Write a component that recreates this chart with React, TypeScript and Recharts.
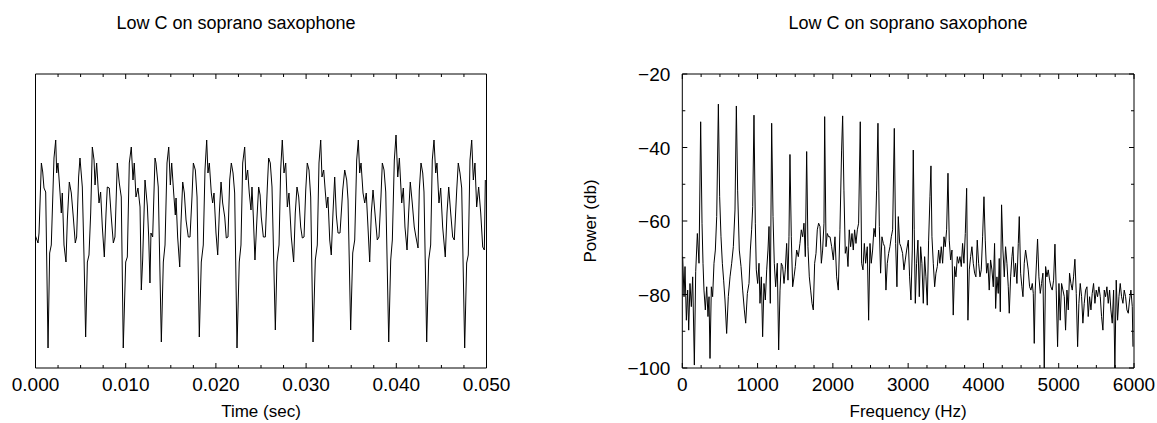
import React from 'react';
import { LineChart, Line, XAxis, YAxis, ReferenceArea } from 'recharts';

// ---- Left chart: waveform, time in milliseconds, amplitude in arbitrary units ----
const waveSamples: [number, number][] = [
  [0, -15], [0.28, -22], [0.39, -12], [0.65, 58], [0.8, 49], [0.94, 33], [1.13, 29], [1.39, -127], [1.57, -32], [1.75, -24],
  [2.05, 63], [2.24, 81], [2.35, 48], [2.49, 58], [2.72, 28], [2.86, 8], [2.97, 28], [3.16, -24], [3.38, -41], [3.53, 1],
  [3.75, 39], [3.97, 28], [4.19, 4], [4.41, -22], [4.56, -16], [4.78, 44], [4.93, 63], [5.19, 34], [5.38, -36], [5.56, -116],
  [5.75, -41], [5.93, -34], [6.12, 8], [6.3, 74], [6.49, 61], [6.6, 36], [6.78, 58], [7.04, 18], [7.22, 29], [7.41, -6],
  [7.63, -36], [7.82, 8], [7.96, 34], [8.18, 33], [8.4, 4], [8.63, -22], [8.81, -16], [9.07, 58], [9.29, 38], [9.51, 24],
  [9.73, -127], [10.0, -41], [10.18, -36], [10.4, 58], [10.62, 74], [10.81, 41], [10.95, 58], [11.14, 24], [11.36, 33], [11.59, 14],
  [11.73, -69], [11.88, -39], [12.14, 41], [12.4, 15], [12.55, -16], [12.69, -62], [12.8, -12], [12.99, -16], [13.25, 63], [13.36, 58],
  [13.61, 34], [13.95, -121], [14.17, -41], [14.36, -24], [14.58, 58], [14.77, 74], [14.95, 36], [15.1, 58], [15.32, 28], [15.5, 6],
  [15.58, 23], [15.76, -16], [15.99, -46], [16.13, -2], [16.32, 39], [16.5, 28], [16.69, 1], [16.94, -16], [17.13, -16], [17.35, 24],
  [17.5, 58], [17.72, 51], [17.91, 24], [18.16, -116], [18.38, -41], [18.6, -24], [18.79, 51], [18.98, 81], [19.12, 48], [19.27, 58],
  [19.49, 28], [19.64, 18], [19.79, 28], [20.01, -12], [20.2, -34], [20.38, 8], [20.57, 39], [20.75, 18], [20.98, 4], [21.15, -17],
  [21.34, -16], [21.53, 41], [21.71, 58], [21.9, 48], [22.08, 28], [22.34, -127], [22.59, -41], [22.78, -24], [22.97, 58], [23.19, 74],
  [23.34, 41], [23.52, 51], [23.7, 28], [23.89, 11], [24.0, 34], [24.15, 4], [24.33, -39], [24.56, 4], [24.74, 34], [24.9, 26],
  [25.03, 4], [25.26, -16], [25.48, -16], [25.7, 34], [25.85, 63], [26.03, 58], [26.22, 34], [26.59, -109], [26.77, -41], [27.0, -24],
  [27.18, 51], [27.36, 81], [27.55, 48], [27.74, 58], [27.92, 14], [28.1, 28], [28.36, -16], [28.62, -41], [28.8, 8], [28.99, 34],
  [29.18, 24], [29.4, -6], [29.58, -17], [29.77, -16], [29.96, 31], [30.13, 58], [30.32, 51], [30.51, 24], [30.77, -121], [31.02, -39],
  [31.24, -24], [31.43, 58], [31.62, 81], [31.76, 44], [31.95, 51], [32.13, 29], [32.28, 13], [32.42, 24], [32.62, -19], [32.79, -34],
  [32.98, 8], [33.17, 44], [33.35, 6], [33.54, -12], [33.76, -12], [34.06, 31], [34.28, 51], [34.5, 41], [34.65, 21], [34.94, -109],
  [35.17, -32], [35.39, -19], [35.61, 61], [35.79, 81], [35.94, 48], [36.09, 58], [36.31, 28], [36.5, 18], [36.67, 28], [36.86, -6],
  [37.05, -41], [37.23, 8], [37.42, 31], [37.67, 4], [37.89, -19], [38.08, -16], [38.3, 24], [38.45, 58], [38.64, 51], [38.83, 29],
  [39.16, -121], [39.38, -39], [39.56, -19], [39.78, 61], [39.97, 86], [40.16, 44], [40.34, 63], [40.6, 18], [40.78, 33], [40.96, -6],
  [41.19, -29], [41.37, 8], [41.55, 39], [41.77, 18], [41.99, -6], [42.18, -16], [42.41, -27], [42.55, 31], [42.74, 58], [42.93, 48],
  [43.07, 29], [43.37, -121], [43.59, -39], [43.81, -24], [43.99, 61], [44.18, 81], [44.37, 48], [44.51, 58], [44.73, 18], [44.92, 33],
  [45.14, -6], [45.43, -36], [45.62, 8], [45.81, 34], [46.03, 8], [46.25, -16], [46.43, -19], [46.7, 31], [46.87, 58], [47.06, 48],
  [47.25, 33], [47.58, -127], [47.8, -42], [47.98, -34], [48.17, 61], [48.36, 81], [48.54, 41], [48.72, 58], [48.91, 14], [49.13, 34],
  [49.36, 8], [49.58, -26], [49.76, -29], [49.87, 41],
];
const timeTicksMs = [0, 2.5, 5, 7.5, 10, 12.5, 15, 17.5, 20, 22.5, 25, 27.5, 30, 32.5, 35, 37.5, 40, 42.5, 45, 47.5, 50];
const timeMajorMs = [0, 10, 20, 30, 40, 50];

// ---- Right chart: power spectrum, frequency in Hz, power in dB ----
const spectrumSamples: [number, number][] = [
  [5, -69.7], [23, -80.6], [36, -72.4], [54, -87], [71, -78.8], [85, -89.7], [102, -77], [120, -83.3], [138, -75.2], [160, -99.2],
  [178, -73.8], [200, -63.4], [222, -71.5], [244, -33], [262, -60.6], [275, -71.5], [288, -78.8], [306, -84.2], [324, -77.9], [341, -86],
  [355, -80.6], [368, -97.4], [386, -77.9], [403, -80.6], [421, -71.5], [439, -67.9], [457, -58.8], [479, -28.2], [496, -53.4], [514, -64.3],
  [532, -71.5], [549, -76.1], [567, -81.5], [589, -90.6], [611, -80.6], [634, -75.2], [656, -71.5], [678, -67], [700, -57], [718, -28.7],
  [735, -51.6], [757, -67.9], [780, -72.4], [802, -78.8], [824, -84.2], [842, -87.8], [864, -79.7], [886, -77], [904, -67.9], [921, -62.4],
  [935, -56.1], [952, -31.2], [970, -60.6], [983, -73.3], [1001, -77], [1019, -71.5], [1032, -82.4], [1050, -75.2], [1067, -91.5], [1085, -77],
  [1103, -81.5], [1121, -73.3], [1138, -67.9], [1152, -61.5], [1169, -82.4], [1187, -33.4], [1205, -58.8], [1222, -71.5], [1240, -77.9], [1262, -71.5],
  [1280, -95.1], [1298, -78.8], [1315, -71.5], [1333, -72.4], [1351, -77], [1368, -73.3], [1386, -66.1], [1404, -76.1], [1417, -64.3], [1430, -41.9],
  [1448, -64.3], [1466, -77.9], [1484, -75.2], [1501, -72.4], [1519, -67.9], [1541, -69.7], [1563, -66.1], [1581, -62.4], [1599, -64.3], [1616, -60.6],
  [1634, -69.7], [1652, -41.1], [1669, -67], [1687, -75.2], [1705, -78.8], [1723, -82.4], [1740, -84.2], [1758, -71.5], [1776, -68.8], [1793, -62.4],
  [1811, -60.6], [1829, -61.5], [1847, -71.5], [1864, -67.9], [1882, -60.6], [1891, -31.6], [1909, -67], [1926, -63.4], [1944, -64.3], [1962, -64.3],
  [1984, -67], [2006, -70.6], [2028, -64.3], [2050, -75.2], [2072, -78.8], [2094, -62.4], [2116, -40.7], [2130, -31.4], [2147, -51.6], [2165, -68.8],
  [2183, -67], [2201, -72.4], [2218, -62.4], [2236, -67], [2254, -63.4], [2271, -67.9], [2289, -62.4], [2307, -66.1], [2325, -62.4], [2342, -60.6],
  [2364, -33], [2382, -71.5], [2400, -73.3], [2418, -66.1], [2435, -71.5], [2457, -67], [2475, -87], [2493, -66.1], [2510, -71.5], [2528, -67.9],
  [2546, -62], [2564, -64.3], [2581, -51.6], [2599, -33.4], [2617, -61.5], [2634, -74.2], [2652, -64.3], [2670, -66.1], [2688, -67], [2705, -78.8],
  [2723, -71.5], [2741, -68.8], [2758, -67], [2776, -64.3], [2794, -62.4], [2816, -34.8], [2834, -66.1], [2851, -77.9], [2869, -58.8], [2887, -66.1],
  [2904, -67], [2926, -68.8], [2944, -73.3], [2962, -70.6], [2980, -67.9], [3002, -65.2], [3019, -75.2], [3037, -81.5], [3055, -67.9], [3068, -40.7],
  [3081, -62.4], [3095, -82.4], [3112, -71.5], [3130, -65.2], [3148, -80.6], [3166, -67], [3183, -71.5], [3201, -82.4], [3219, -69.7], [3236, -75.2],
  [3254, -82.9], [3272, -65.2], [3290, -53.4], [3303, -45], [3316, -64.3], [3334, -71.5], [3352, -77.9], [3369, -74.2], [3387, -72.4], [3405, -67.9],
  [3422, -71.5], [3440, -67], [3458, -71.5], [3476, -64.3], [3493, -67], [3511, -62.4], [3529, -47], [3546, -65.2], [3564, -70.6], [3582, -67.9],
  [3599, -85.6], [3617, -72.4], [3635, -75.2], [3653, -69.7], [3670, -71.5], [3688, -69.7], [3706, -72.4], [3723, -66.1], [3741, -71.5], [3759, -63.4],
  [3777, -51.1], [3794, -87], [3812, -73.3], [3830, -69.7], [3847, -67], [3865, -71.5], [3883, -74.2], [3900, -75.2], [3918, -65.2], [3936, -71.5],
  [3954, -75.2], [3971, -73.3], [3989, -64.3], [4007, -53.4], [4024, -65.2], [4042, -74.2], [4060, -71.5], [4077, -78.8], [4095, -70.6], [4113, -73.3],
  [4131, -77.9], [4148, -66.1], [4162, -83.8], [4179, -75.2], [4197, -79.7], [4210, -70.2], [4224, -84.7], [4241, -55.6], [4259, -67.9], [4277, -75.2],
  [4294, -67], [4312, -71.5], [4330, -77.9], [4343, -85.1], [4361, -75.2], [4379, -69.7], [4392, -67], [4409, -75.2], [4427, -71.5], [4445, -77],
  [4463, -66.1], [4476, -58.8], [4494, -74.2], [4511, -77.9], [4525, -80.6], [4542, -71.5], [4560, -67.9], [4578, -70.6], [4595, -73.3], [4613, -77.9],
  [4631, -78.8], [4649, -77], [4662, -79.7], [4675, -93.3], [4688, -78.8], [4706, -70.6], [4719, -64.9], [4737, -75.2], [4755, -79.7], [4772, -77],
  [4790, -74.2], [4808, -100], [4826, -72.4], [4843, -75.2], [4861, -73.3], [4879, -76.1], [4896, -77.9], [4914, -78.8], [4932, -76.1], [4950, -66.3],
  [4967, -78.8], [4985, -94.2], [5003, -77], [5020, -87], [5038, -77], [5056, -78.8], [5074, -80.6], [5091, -89.7], [5109, -78.8], [5127, -84.2],
  [5144, -74.2], [5162, -77], [5180, -78.8], [5197, -75.2], [5215, -70.4], [5233, -79.7], [5251, -94.2], [5268, -82.4], [5286, -77], [5304, -80.6],
  [5321, -87.8], [5339, -82.4], [5357, -78.8], [5375, -77.9], [5392, -86], [5410, -80.6], [5428, -84.2], [5445, -79.7], [5463, -77], [5481, -82.4],
  [5498, -78.8], [5516, -80.6], [5534, -77.9], [5552, -80.6], [5569, -86], [5587, -89.7], [5605, -78.8], [5622, -80.6], [5640, -77.9], [5658, -82.4],
  [5676, -78.8], [5693, -84.2], [5711, -87.8], [5729, -78.8], [5746, -100], [5764, -76.1], [5782, -87], [5800, -80.6], [5817, -77], [5835, -80.6],
  [5853, -82.4], [5870, -78.8], [5888, -80.6], [5906, -84.2], [5924, -85.1], [5941, -81.5], [5959, -78.8], [5977, -83.3], [5986, -94.2],
];
const freqTicks = [0, 250, 500, 750, 1000, 1250, 1500, 1750, 2000, 2250, 2500, 2750, 3000, 3250, 3500, 3750, 4000, 4250, 4500, 4750, 5000, 5250, 5500, 5750, 6000];
const freqMajor = [0, 1000, 2000, 3000, 4000, 5000, 6000];
const powerTicks = [-100, -90, -80, -70, -60, -50, -40, -30, -20];
const powerMajor = [-100, -80, -60, -40, -20];

const chartTitle = 'Low C on soprano saxophone';

const waveData = waveSamples.map(([t, a]) => ({ t, a }));
const spectrumData = spectrumSamples.map(([f, p]) => ({ f, p }));

const FONT = '"Liberation Sans", Arial, Helvetica, sans-serif';
const TICK_FONT = 19;
const MAJOR_LEN = 5;
const MINOR_LEN = 3;

type Side = 'bottom' | 'top' | 'left' | 'right';

function makeTick(side: Side, majors: number[], fmt: ((v: number) => string) | null) {
  return (props: any) => {
    const { x, y, payload } = props;
    const v = Number(payload.value);
    const major = majors.some((m) => Math.abs(m - v) < 1e-9);
    const len = major ? MAJOR_LEN : MINOR_LEN;
    let x2 = x;
    let y2 = y;
    if (side === 'bottom') y2 = y - len;
    if (side === 'top') y2 = y + len;
    if (side === 'left') x2 = x + len;
    if (side === 'right') x2 = x - len;
    let label = null;
    if (fmt && major) {
      if (side === 'bottom') {
        label = (
          <text x={x} y={y + 23} textAnchor="middle" fontSize={TICK_FONT} fontFamily={FONT} fill="#000">
            {fmt(v)}
          </text>
        );
      } else if (side === 'left') {
        label = (
          <text x={x - 12} y={y + 7} textAnchor="end" fontSize={TICK_FONT} fontFamily={FONT} fill="#000">
            {fmt(v)}
          </text>
        );
      }
    }
    return (
      <g>
        <line x1={x} y1={y} x2={x2} y2={y2} stroke="#000" strokeWidth={1} />
        {label}
      </g>
    );
  };
}

const minus = (v: number) => (v < 0 ? '\u2212' + String(Math.abs(v)) : String(v));

export default function App() {
  return (
    <div style={{ position: 'absolute', left: 0, top: 0, width: 1157, height: 423, background: '#fff', fontFamily: FONT }}>
      <div style={{ position: 'absolute', left: 36, top: 13, width: 400, textAlign: 'center', fontSize: 18, lineHeight: '20px', color: '#000' }}>
        {chartTitle}
      </div>
      <div style={{ position: 'absolute', left: 708, top: 13, width: 400, textAlign: 'center', fontSize: 18, lineHeight: '20px', color: '#000' }}>
        {chartTitle}
      </div>
      <div
        style={{
          position: 'absolute', left: 541, top: 211, width: 100, height: 20, textAlign: 'center', fontSize: 17,
          lineHeight: '20px', color: '#000', transform: 'rotate(-90deg)', transformOrigin: '50% 50%',
        }}
      >
        Power (db)
      </div>

      <div style={{ position: 'absolute', left: 0, top: 0 }}>
        <LineChart width={520} height={423} data={waveData} margin={{ top: 73, right: 32.5, bottom: 0, left: 34.5 }}>
          <XAxis
            dataKey="t" type="number" domain={[0, 50]} ticks={timeTicksMs} interval={0} allowDataOverflow
            height={55} tickSize={0} tickMargin={0} tickLine={false} axisLine={false}
            tick={makeTick('bottom', timeMajorMs, (v) => (v / 1000).toFixed(3))}
            label={{ value: 'Time (sec)', position: 'insideBottom', offset: 6, fontSize: 17, fontFamily: FONT, fill: '#000' }}
          />
          <XAxis
            xAxisId="top" orientation="top" dataKey="t" type="number" domain={[0, 50]} ticks={timeTicksMs} interval={0}
            allowDataOverflow height={1} tickSize={0} tickMargin={0} tickLine={false} axisLine={false}
            tick={makeTick('top', timeMajorMs, null)}
          />
          <YAxis type="number" domain={[-147, 147]} allowDataOverflow width={1} tick={false} tickLine={false} axisLine={false} />
          <YAxis yAxisId="right" orientation="right" type="number" domain={[-147, 147]} allowDataOverflow width={1} tick={false} tickLine={false} axisLine={false} />
          <ReferenceArea x1={0} x2={50} y1={-147} y2={147} fill="none" stroke="#000" strokeWidth={1} ifOverflow="visible" />
          <Line type="linear" dataKey="a" stroke="#000" strokeWidth={1} dot={false} isAnimationActive={false} />
        </LineChart>
      </div>

      <div style={{ position: 'absolute', left: 560, top: 0 }}>
        <LineChart width={597} height={423} data={spectrumData} margin={{ top: 73, right: 22, bottom: 0, left: 121.3 }}>
          <XAxis
            dataKey="f" type="number" domain={[0, 6000]} ticks={freqTicks} interval={0} allowDataOverflow
            height={55} tickSize={0} tickMargin={0} tickLine={false} axisLine={false}
            tick={makeTick('bottom', freqMajor, (v) => String(v))}
            label={{ value: 'Frequency (Hz)', position: 'insideBottom', offset: 6, fontSize: 17, fontFamily: FONT, fill: '#000' }}
          />
          <XAxis
            xAxisId="top" orientation="top" dataKey="f" type="number" domain={[0, 6000]} ticks={freqTicks} interval={0}
            allowDataOverflow height={1} tickSize={0} tickMargin={0} tickLine={false} axisLine={false}
            tick={makeTick('top', freqMajor, null)}
          />
          <YAxis
            type="number" domain={[-100, -20]} ticks={powerTicks} interval={0} allowDataOverflow width={1}
            tickSize={0} tickMargin={0} tickLine={false} axisLine={false}
            tick={makeTick('left', powerMajor, minus)}
          />
          <YAxis
            yAxisId="right" orientation="right" type="number" domain={[-100, -20]} ticks={powerTicks} interval={0}
            allowDataOverflow width={1} tickSize={0} tickMargin={0} tickLine={false} axisLine={false}
            tick={makeTick('right', powerMajor, null)}
          />
          <ReferenceArea x1={0} x2={6000} y1={-100} y2={-20} fill="none" stroke="#000" strokeWidth={1} ifOverflow="visible" />
          <Line type="linear" dataKey="p" stroke="#000" strokeWidth={1} dot={false} isAnimationActive={false} />
        </LineChart>
      </div>
    </div>
  );
}
